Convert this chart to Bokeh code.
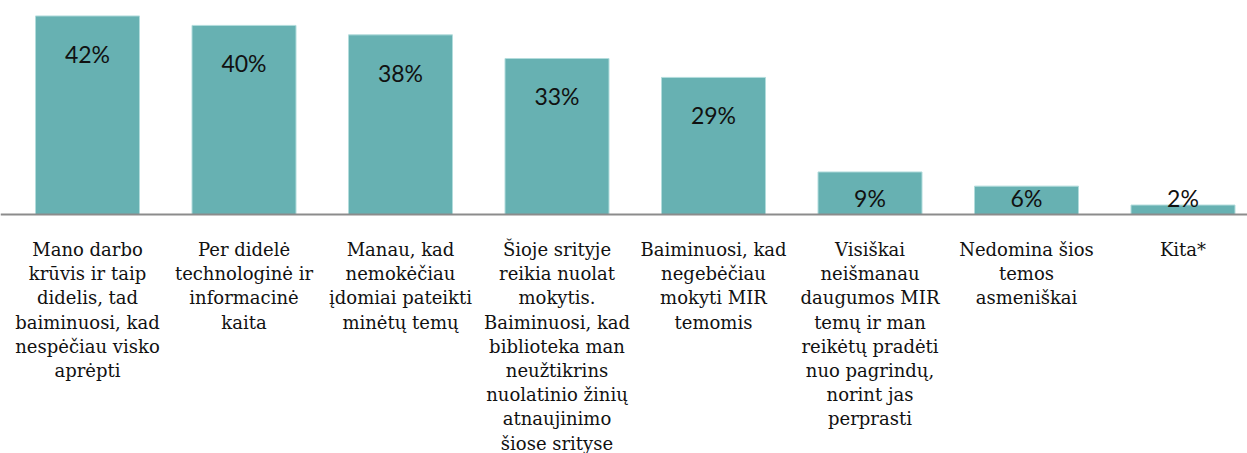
from bokeh.plotting import figure
from bokeh.models import Range1d, ColumnDataSource, Span
from bokeh.core.properties import value
from bokeh.embed import file_html
from bokeh.resources import INLINE

categories = [
    "Mano darbo\nkrūvis ir taip\ndidelis, tad\nbaiminuosi, kad\nnespėčiau visko\naprėpti",
    "Per didelė\ntechnologinė ir\ninformacinė\nkaita",
    "Manau, kad\nnemokėčiau\nįdomiai pateikti\nminėtų temų",
    "Šioje srityje\nreikia nuolat\nmokytis.\nBaiminuosi, kad\nbiblioteka man\nneužtikrins\nnuolatinio žinių\natnaujinimo\nšiose srityse",
    "Baiminuosi, kad\nnegebėčiau\nmokyti MIR\ntemomis",
    "Visiškai\nneišmanau\ndaugumos MIR\ntemų ir man\nreikėtų pradėti\nnuo pagrindų,\nnorint jas\nperprasti",
    "Nedomina šios\ntemos\nasmeniškai",
    "Kita*",
]
shares = [42, 40, 38, 33, 29, 9, 6, 2]

W, H = 1247, 453
PX_PER_CAT = 156.5
LEFT_PX = 8.75       # left edge of first category
K = 4.727            # pixels per percentage point
BASE_PX = 214        # baseline distance from frame top
LINE_PX = 24.2
FIRST_PX = 35

n = len(shares)
xs = [i + 0.5 for i in range(n)]
x0 = -LEFT_PX / PX_PER_CAT

p = figure(width=W, height=H, output_backend="svg", toolbar_location=None,
           x_range=Range1d(x0, x0 + W / PX_PER_CAT),
           y_range=Range1d(-(H - BASE_PX) / K, BASE_PX / K),
           min_border=0, min_border_left=0, min_border_right=0,
           min_border_top=0, min_border_bottom=0)
p.axis.visible = False
p.grid.visible = False
p.outline_line_color = None
p.background_fill_color = "white"
p.border_fill_color = "white"

src = ColumnDataSource(dict(x=xs, top=shares))
p.vbar(x="x", top="top", bottom=0, width=104 / PX_PER_CAT, source=src,
       fill_color="#67b1b2", line_color="#b2dcdc", line_width=1)

p.add_layout(Span(location=0, dimension="width", line_color="#8c8c8c", line_width=2))

# percent labels
lab_y = [max(v - 37.7 / K, 17 / K) for v in shares]
lab_txt = [f"{v}%" for v in shares]
p.text(x=xs, y=lab_y, text=lab_txt, text_align="center", text_baseline="alphabetic",
       text_font=value("Lato"), text_font_size="23px", text_color="#111111")

# category labels, one text row per line
cx, cy, ct = [], [], []
for i, c in enumerate(categories):
    for j, line in enumerate(c.split("\n")):
        cx.append(xs[i])
        cy.append(-(FIRST_PX + LINE_PX * j) / K)
        ct.append(line)
p.text(x=cx, y=cy, text=ct, text_align="center", text_baseline="alphabetic",
       text_font=value("DejaVu Serif"), text_font_size="18px", text_color="#111111")

open("out.html", "w").write(file_html(p, INLINE))
